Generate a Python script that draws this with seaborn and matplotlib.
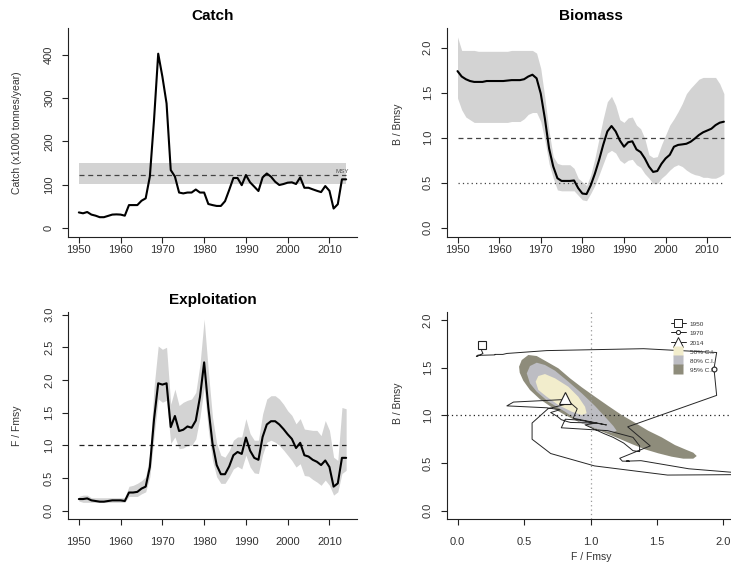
import matplotlib
matplotlib.use("Agg")
import matplotlib.pyplot as plt
from matplotlib.lines import Line2D
import pandas as pd
import seaborn as sns

# ---------------------------------------------------------------- data
years = list(range(1950, 2015))

# catch in thousand tonnes per year
catch = [36, 34, 37, 31, 28.5, 25, 25, 28, 31, 31.5,
         31, 28.5, 53, 53, 53, 63, 68.6, 119, 250, 403,
         350, 288, 134, 119, 82, 80, 82, 82, 89, 82,
         82, 55.5, 53, 51, 51, 62, 88, 115.6, 115.6, 99,
         122.5, 105.6, 95.6, 85.5, 117, 126, 118.7, 107, 99.4, 101.7,
         104.8, 105.6, 101.7, 117, 93, 93, 89.4, 86, 83, 97,
         86, 45, 55, 112.5, 112.5]
msy = 122.5
msy_lo = 101.7
msy_hi = 149.5

# relative biomass B/Bmsy with its confidence band
b_bmsy = [1.74, 1.68, 1.65, 1.63, 1.62, 1.62, 1.62, 1.63, 1.63, 1.63,
          1.63, 1.63, 1.635, 1.64, 1.64, 1.64, 1.65, 1.68, 1.70, 1.66,
          1.49, 1.21, 0.88, 0.68, 0.55, 0.52, 0.52, 0.52, 0.525, 0.44,
          0.38, 0.374, 0.47, 0.60, 0.75, 0.92, 1.07, 1.13, 1.07, 0.97,
          0.90, 0.95, 0.96, 0.87, 0.84, 0.77, 0.68, 0.62, 0.63, 0.71,
          0.77, 0.81, 0.90, 0.92, 0.926, 0.933, 0.955, 0.99, 1.03, 1.06,
          1.08, 1.10, 1.14, 1.167, 1.178]
b_hi = [2.12, 1.97, 1.97, 1.97, 1.97, 1.96, 1.96, 1.96, 1.96, 1.96,
        1.96, 1.96, 1.96, 1.97, 1.97, 1.97, 1.97, 1.97, 1.97, 1.94,
        1.77, 1.44, 1.07, 0.79, 0.715, 0.70, 0.70, 0.70, 0.66, 0.55,
        0.51, 0.47, 0.585, 0.77, 0.99, 1.21, 1.40, 1.46, 1.36, 1.20,
        1.17, 1.22, 1.23, 1.14, 1.10, 0.99, 0.81, 0.78, 0.79, 0.92,
        1.03, 1.14, 1.21, 1.29, 1.38, 1.49, 1.55, 1.60, 1.65, 1.67,
        1.67, 1.67, 1.67, 1.60, 1.49]
b_lo = [1.44, 1.31, 1.23, 1.20, 1.17, 1.17, 1.17, 1.17, 1.17, 1.17,
        1.17, 1.17, 1.17, 1.18, 1.18, 1.18, 1.21, 1.26, 1.28, 1.28,
        1.18, 0.97, 0.71, 0.55, 0.42, 0.41, 0.41, 0.41, 0.41, 0.36,
        0.31, 0.30, 0.38, 0.47, 0.585, 0.71, 0.83, 0.86, 0.83, 0.75,
        0.715, 0.75, 0.76, 0.70, 0.67, 0.60, 0.55, 0.49, 0.49, 0.55,
        0.59, 0.64, 0.68, 0.70, 0.68, 0.64, 0.61, 0.59, 0.58, 0.56,
        0.56, 0.55, 0.55, 0.57, 0.60]

# relative exploitation F/Fmsy with its confidence band
f_fmsy = [0.18, 0.18, 0.19, 0.16, 0.15, 0.14, 0.14, 0.15, 0.16, 0.16,
          0.16, 0.15, 0.28, 0.28, 0.29, 0.34, 0.37, 0.67, 1.40, 1.95,
          1.93, 1.95, 1.28, 1.45, 1.22, 1.24, 1.29, 1.27, 1.38, 1.74,
          2.27, 1.58, 1.03, 0.70, 0.56, 0.56, 0.68, 0.85, 0.90, 0.87,
          1.12, 0.92, 0.81, 0.78, 1.13, 1.32, 1.37, 1.37, 1.32, 1.25,
          1.17, 1.10, 0.96, 1.04, 0.85, 0.83, 0.78, 0.75, 0.70, 0.77,
          0.67, 0.37, 0.42, 0.81, 0.81]
f_hi = [0.22, 0.24, 0.24, 0.20, 0.20, 0.20, 0.20, 0.20, 0.20, 0.20,
        0.20, 0.20, 0.375, 0.39, 0.42, 0.46, 0.52, 0.87, 1.89, 2.52,
        2.47, 2.50, 1.63, 1.86, 1.61, 1.66, 1.69, 1.71, 1.81, 2.24,
        2.93, 2.14, 1.43, 1.03, 0.85, 0.82, 0.92, 1.08, 1.13, 1.13,
        1.41, 1.18, 1.08, 1.08, 1.48, 1.71, 1.76, 1.76, 1.71, 1.63,
        1.53, 1.46, 1.33, 1.41, 1.25, 1.24, 1.23, 1.23, 1.15, 1.38,
        1.23, 0.82, 0.77, 1.58, 1.56]
f_lo = [0.15, 0.13, 0.13, 0.13, 0.13, 0.13, 0.13, 0.13, 0.13, 0.13,
        0.13, 0.13, 0.22, 0.22, 0.22, 0.26, 0.29, 0.52, 1.13, 1.71,
        1.66, 1.69, 1.03, 1.13, 0.95, 0.96, 1.00, 1.00, 1.10, 1.43,
        1.89, 1.23, 0.77, 0.52, 0.42, 0.42, 0.52, 0.64, 0.68, 0.64,
        0.85, 0.67, 0.58, 0.57, 0.86, 1.05, 1.08, 1.05, 1.00, 0.93,
        0.85, 0.77, 0.67, 0.72, 0.54, 0.53, 0.48, 0.44, 0.39, 0.47,
        0.39, 0.24, 0.29, 0.57, 0.62]

# confidence regions of the final-year (F/Fmsy, B/Bmsy) estimate
ci95_f = [0.462, 0.482, 0.532, 0.595, 0.670, 0.758, 0.846, 0.934, 1.034, 1.134,
          1.235, 1.335, 1.435, 1.536, 1.636, 1.724, 1.774, 1.800, 1.774, 1.699,
          1.611, 1.511, 1.410, 1.310, 1.209, 1.109, 1.009, 0.908, 0.808, 0.708,
          0.620, 0.544, 0.494, 0.467]
ci95_b = [1.511, 1.581, 1.634, 1.623, 1.564, 1.494, 1.389, 1.295, 1.196, 1.099,
          1.004, 0.923, 0.839, 0.770, 0.689, 0.637, 0.609, 0.574, 0.546, 0.546,
          0.567, 0.602, 0.644, 0.700, 0.760, 0.818, 0.875, 0.934, 1.004, 1.085,
          1.169, 1.267, 1.364, 1.448]
ci80_f = [0.520, 0.544, 0.595, 0.657, 0.733, 0.833, 0.934, 1.034, 1.109, 1.172,
          1.197, 1.160, 1.059, 0.934, 0.808, 0.682, 0.595, 0.544]
ci80_b = [1.441, 1.518, 1.553, 1.529, 1.469, 1.354, 1.232, 1.099, 0.986, 0.889,
          0.839, 0.818, 0.854, 0.917, 1.039, 1.144, 1.249, 1.337]
ci50_f = [0.587, 0.607, 0.657, 0.733, 0.833, 0.908, 0.959, 0.971, 0.934, 0.858,
          0.758, 0.670, 0.607]
ci50_b = [1.354, 1.413, 1.434, 1.389, 1.301, 1.196, 1.091, 1.022, 1.004, 1.039,
          1.109, 1.196, 1.267]

ci_labels = ["50% C.I.", "80% C.I.", "95% C.I."]
marker_years = [1950, 1970, 2014]

# ---------------------------------------------------------------- style
sns.set_theme(style="ticks")
plt.rcParams["font.family"] = ["Liberation Sans", "DejaVu Sans"]

TXT = "#333333"
BAND = "#d3d3d3"
COL50, COL80, COL95 = "#f2edcc", "#bdbdc3", "#8e8c7b"
FMT1 = matplotlib.ticker.FormatStrFormatter("%.1f")

W, H = 731, 564
fig = plt.figure(figsize=(W / 100, H / 100), dpi=100)


def frame(left, top, right, bottom):
    return fig.add_axes([left / W, 1 - bottom / H, (right - left) / W, (bottom - top) / H])


ax_c = frame(68, 28, 357, 237)
ax_b = frame(446.7, 28, 734.7, 237)
ax_f = frame(68, 312, 357, 519)
ax_k = frame(446.7, 312, 736.7, 519)


def style_axis(ax, xpad):
    for s in ("top", "right"):
        ax.spines[s].set_visible(False)
    for s in ("left", "bottom"):
        ax.spines[s].set_color("#222222")
        ax.spines[s].set_linewidth(0.8)
    ax.tick_params(direction="out", length=4.2, width=0.8, color="#222222",
                   labelsize=8, labelcolor=TXT)
    ax.tick_params(axis="x", pad=xpad)
    ax.tick_params(axis="y", pad=5.8, labelrotation=90)
    for lab in ax.get_yticklabels():
        lab.set_va("center")
    ax.grid(False)


DASH = (0, (4, 3))
DOT = (0, (1, 2.5))

# ---------------------------------------------------------------- Catch
ax_c.fill_between([years[0], years[-1]], msy_lo, msy_hi, color=BAND, lw=0)
ax_c.plot([years[0], years[-1]], [msy, msy], color="#444444", lw=0.9, ls=DASH)
ax_c.text(years[-2], msy + 3, "MSY", fontsize=4.5, color="#555555",
          ha="center", va="bottom")
sns.lineplot(x=years, y=catch, ax=ax_c, color="black", linewidth=1.5)
ax_c.set_xlim(1947.4, 2016.6)
ax_c.set_ylim(-20.8, 462.4)
ax_c.set_xticks(range(1950, 2011, 10))
ax_c.set_yticks(range(0, 401, 100))
style_axis(ax_c, 1.5)
ax_c.set_title("Catch", fontsize=11, fontweight="bold", pad=6, color="black")
ax_c.set_ylabel("Catch (x1000 tonnes/year)", fontsize=7.5, color=TXT, va="center")
ax_c.yaxis.set_label_coords(-0.176, 0.5)

# ---------------------------------------------------------------- Biomass
ax_b.fill_between(years, b_lo, b_hi, color=BAND, lw=0)
ax_b.plot([years[0], years[-1]], [1.0, 1.0], color="#444444", lw=0.9, ls=DASH)
ax_b.plot([years[0], years[-1]], [0.5, 0.5], color="#444444", lw=0.9, ls=DOT)
sns.lineplot(x=years, y=b_bmsy, ax=ax_b, color="black", linewidth=1.5)
ax_b.set_xlim(1947.4, 2016.6)
ax_b.set_ylim(-0.103, 2.219)
ax_b.set_xticks(range(1950, 2011, 10))
ax_b.set_yticks([0.0, 0.5, 1.0, 1.5, 2.0])
ax_b.yaxis.set_major_formatter(FMT1)
style_axis(ax_b, 1.5)
ax_b.set_title("Biomass", fontsize=11, fontweight="bold", pad=6, color="black")
ax_b.set_ylabel("B / Bmsy", fontsize=7.5, color=TXT, va="center")
ax_b.yaxis.set_label_coords(-0.169, 0.54)

# ---------------------------------------------------------------- Exploitation
ax_f.fill_between(years, f_lo, f_hi, color=BAND, lw=0)
ax_f.plot([years[0], years[-1]], [1.0, 1.0], color="#222222", lw=0.9, ls=DASH)
sns.lineplot(x=years, y=f_fmsy, ax=ax_f, color="black", linewidth=1.5)
ax_f.set_xlim(1947.4, 2016.6)
ax_f.set_ylim(-0.125, 3.04)
ax_f.set_xticks(range(1950, 2011, 10))
ax_f.set_yticks([0.0, 0.5, 1.0, 1.5, 2.0, 2.5, 3.0])
ax_f.yaxis.set_major_formatter(FMT1)
style_axis(ax_f, 9.0)
ax_f.set_title("Exploitation", fontsize=11, fontweight="bold", pad=6, color="black")
ax_f.set_ylabel("F / Fmsy", fontsize=7.5, color=TXT, va="center")
ax_f.yaxis.set_label_coords(-0.176, 0.45)

# ---------------------------------------------------------------- Kobe phase plot
ax_k.fill(ci95_f, ci95_b, color=COL95, lw=0)
ax_k.fill(ci80_f, ci80_b, color=COL80, lw=0)
ax_k.fill(ci50_f, ci50_b, color=COL50, lw=0)
ax_k.axhline(1.0, color="#222222", lw=0.9, ls=DOT)
ax_k.axvline(1.0, color="#999999", lw=0.9, ls=DOT)
traj = pd.DataFrame({"F": f_fmsy, "B": b_bmsy})
sns.lineplot(data=traj, x="F", y="B", sort=False, estimator=None, ax=ax_k,
             color="#262626", linewidth=0.7)
marker_style = {1950: "s", 1970: "o", 2014: "^"}
marker_size = {1950: 6, 1970: 3.5, 2014: 8}
for yr in marker_years:
    i = years.index(yr)
    ax_k.plot(f_fmsy[i], b_bmsy[i], marker=marker_style[yr], ms=marker_size[yr],
              mfc="white", mec="#222222", mew=0.8, ls="none", zorder=5)
ax_k.set_xlim(-0.083, 2.101)
ax_k.set_ylim(-0.087, 2.085)
ax_k.set_xticks([0.0, 0.5, 1.0, 1.5, 2.0])
ax_k.set_yticks([0.0, 0.5, 1.0, 1.5, 2.0])
ax_k.xaxis.set_major_formatter(FMT1)
ax_k.yaxis.set_major_formatter(FMT1)
style_axis(ax_k, 9.0)
ax_k.set_xlabel("F / Fmsy", fontsize=7.5, color=TXT, labelpad=3)
ax_k.set_ylabel("B / Bmsy", fontsize=7.5, color=TXT, va="center")
ax_k.yaxis.set_label_coords(-0.168, 0.56)

handles = [Line2D([], [], color="#222222", lw=0.7, marker=marker_style[y],
                  ms=marker_size[y] * 0.85, mfc="white", mec="#222222", mew=0.7)
           for y in marker_years]
handles += [Line2D([], [], ls="none", marker="s", ms=7.2, mfc=c, mec="none")
            for c in (COL50, COL80, COL95)]
labels = [str(y) for y in marker_years] + ci_labels
ax_k.legend(handles, labels, loc="upper left", bbox_to_anchor=(0.772, 0.96),
            frameon=False, fontsize=4.6, handlelength=2.4, handleheight=1.5,
            handletextpad=0.6, labelspacing=0.22, borderpad=0, borderaxespad=0,
            labelcolor=TXT)

fig.savefig("out.png", dpi=100)
